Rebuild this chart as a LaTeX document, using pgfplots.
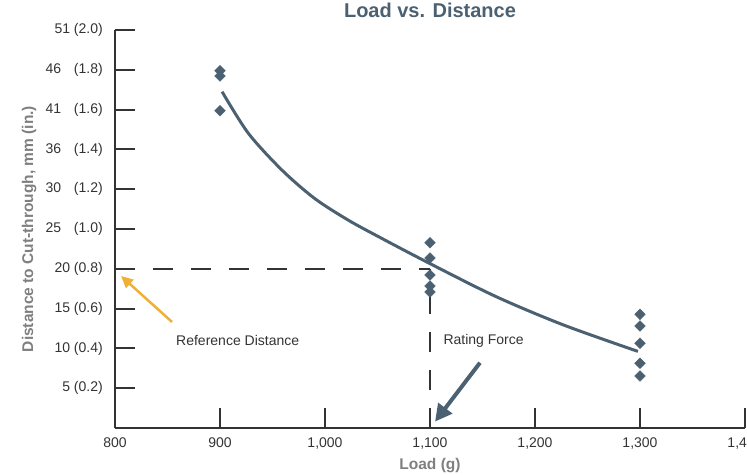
\documentclass[border=0pt]{standalone}
\usepackage{fontspec}
\setmainfont{Liberation Sans}
\usepackage{pgfplots}
\pgfplotsset{compat=1.18}
\usetikzlibrary{arrows.meta}
\definecolor{slate}{HTML}{4B6172}
\definecolor{axgray}{HTML}{333333}
\definecolor{lblgray}{HTML}{7F7F7F}
\definecolor{gold}{HTML}{EFB135}
\begin{document}
\begin{tikzpicture}
\begin{axis}[
  at={(0,0)}, anchor=south west,
  scale only axis, width=630bp, height=398bp,
  xmin=800, xmax=1400, ymin=0, ymax=2,
  axis lines=left,
  axis line style={-, line width=2bp, color=axgray},
  clip=false,
  xtick={800,900,1000,1100,1200,1300,1400},
  xticklabels={800,900,{1,000},{1,100},{1,200},{1,300},{1,400}},
  ytick={0.2,0.4,0.6,0.8,1.0,1.2,1.4,1.6,1.8,2.0},
  yticklabels={{5 (0.2)},{10 (0.4)},{15 (0.6)},{20 (0.8)},
    {25\hspace{9bp} (1.0)\hspace{-6bp}},{30\hspace{9bp} (1.2)\hspace{-6bp}},
    {36\hspace{9bp} (1.4)\hspace{-6bp}},{41\hspace{9bp} (1.6)\hspace{-6bp}},
    {46\hspace{9bp} (1.8)\hspace{-6bp}},{51 (2.0)}},
  tick align=inside, major tick length=20bp,
  tick style={line width=2bp, color=axgray},
  ticklabel style={font=\fontsize{14bp}{16bp}\selectfont, text=axgray},
  xticklabel style={anchor=base, yshift=-19.3bp},
  yticklabel style={anchor=east, inner sep=0pt, xshift=-12bp},
  title={Load vs. Distance},
  title style={at={(axis description cs:0.5,1.0176)}, anchor=base,
    font=\fontsize{20bp}{24bp}\selectfont\bfseries, text=slate},
  xlabel={Load (g)},
  xlabel style={at={(axis description cs:0.5,-0.1055)}, anchor=base,
    font=\fontsize{15.5bp}{18bp}\selectfont\bfseries, text=lblgray},
  ylabel={Distance to Cut-through, mm (in.)},
  ylabel style={at={(axis description cs:-0.1300,0.5)}, anchor=base,
    font=\fontsize{15.5bp}{18bp}\selectfont\bfseries, text=lblgray},
]
% reference guide lines
\addplot[axgray, line width=2bp, dash pattern=on 20bp off 18bp] coordinates {(800,0.8) (1100,0.8)};
\addplot[axgray, line width=2bp, dash pattern=on 20bp off 18bp] coordinates {(1100,0) (1100,0.8)};
% fitted curve
\addplot[slate, line width=3bp, smooth] coordinates {
  (902,1.69) (927,1.481) (959,1.296) (990,1.154) (1022,1.045) (1054,0.953)
  (1100,0.826) (1163,0.66) (1227,0.518) (1298,0.385)};
% measurements
\addplot[only marks, mark=diamond*, mark size=5.35bp,
  mark options={xscale=1.33, fill=slate, draw=slate}] coordinates {
  (900,1.795) (900,1.769) (900,1.594)
  (1100,0.931) (1100,0.854) (1100,0.769) (1100,0.714) (1100,0.683)
  (1300,0.571) (1300,0.513) (1300,0.426) (1300,0.325) (1300,0.261)};
% annotations
\draw[gold, line width=2.5bp, -{Triangle[length=12bp,width=11bp]}]
  (axis cs:854.3,0.533) -- (axis cs:805.7,0.764);
\draw[slate, line width=4bp, -{Triangle[length=17bp,width=17bp]}]
  (axis cs:1147.6,0.328) -- (axis cs:1104.8,0.032);
\node[anchor=west, inner sep=0pt, font=\fontsize{14bp}{16bp}\selectfont, text=axgray]
  at (axis cs:858.1,0.442) {Reference Distance};
\node[anchor=west, inner sep=0pt, font=\fontsize{14bp}{16bp}\selectfont, text=axgray]
  at (axis cs:1112.7,0.439) {Rating Force};
\end{axis}
\pgfresetboundingbox
\path (-115bp,-47bp) rectangle (632bp,428bp);
\end{tikzpicture}
\end{document}
